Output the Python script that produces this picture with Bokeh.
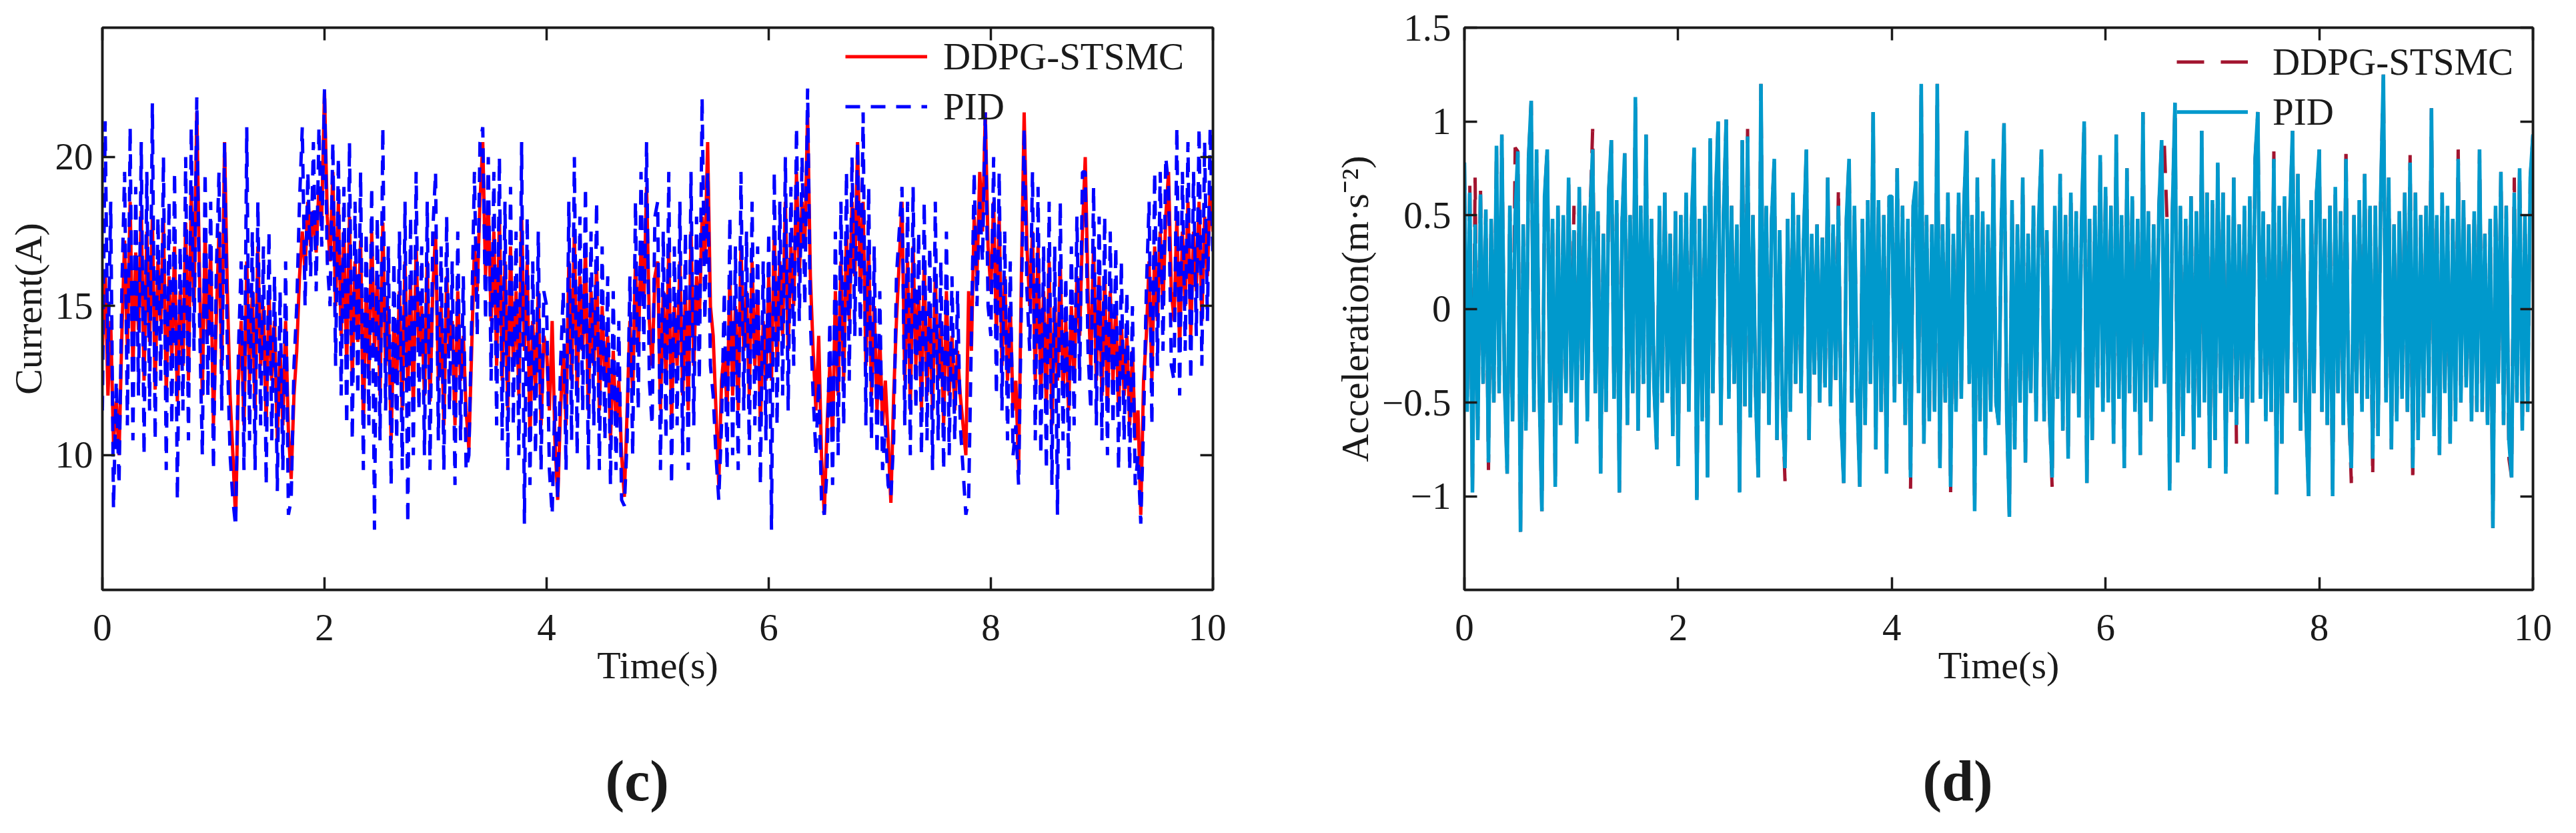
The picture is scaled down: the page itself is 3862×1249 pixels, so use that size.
import numpy as np
from bokeh.plotting import figure
from bokeh.layouts import row
from bokeh.models import Range1d, LinearAxis, FixedTicker, Legend, LegendItem, Title
from bokeh.embed import file_html
from bokeh.resources import INLINE

FONT = "Liberation Serif"
INK = "#1a1a1a"

# panel (c): motor current, one row per second, sampled every 0.025 s
time_c = np.linspace(0, 10, 401)
current_ddpg = [
    13.5, 16.2, 12.0, 14.5, 10.4, 11.8, 10.0, 14.0, 17.2, 13.5, 18.5, 12.8, 16.8, 14.2, 18.2, 12.5, 17.5, 13.8, 18.0, 12.2, 16.5, 14.5, 17.8, 12.0, 16.0, 13.2, 17.0, 11.8, 15.5, 13.0, 17.8, 12.5, 18.8, 15.0, 21.5, 16.0, 12.0, 17.5, 14.0, 16.8,
    11.0, 14.5, 17.5, 13.0, 20.5, 15.5, 12.0, 10.0, 7.8, 12.5, 14.5, 11.0, 16.5, 12.5, 15.5, 11.5, 17.0, 13.0, 15.0, 11.0, 15.5, 12.5, 14.5, 10.5, 13.5, 11.0, 14.5, 10.8, 9.2, 12.0, 13.5, 16.0, 17.5, 16.2, 18.5, 17.0, 18.2, 16.8, 19.0, 18.0,
    22.2, 18.0, 16.5, 19.5, 15.0, 18.5, 14.0, 17.5, 13.0, 18.0, 12.5, 16.5, 13.8, 17.2, 11.0, 15.5, 12.8, 17.5, 13.5, 16.0, 12.0, 17.8, 13.0, 15.0, 10.5, 14.5, 12.5, 15.5, 11.5, 16.5, 12.2, 15.8, 11.5, 17.0, 13.5, 15.0, 12.0, 16.5, 11.8, 15.5,
    17.5, 12.5, 15.0, 11.0, 16.0, 13.5, 14.5, 11.0, 15.5, 12.5, 14.0, 11.5, 10.2, 13.5, 17.0, 15.5, 18.5, 20.5, 16.0, 18.5, 14.5, 17.5, 13.0, 18.0, 12.5, 16.5, 11.5, 17.0, 13.0, 15.5, 12.0, 18.0, 13.5, 16.5, 10.5, 14.5, 12.0, 15.5, 11.0, 14.0,
    13.5, 11.5, 14.5, 10.5, 8.5, 11.5, 13.5, 11.0, 16.5, 12.5, 17.5, 12.0, 16.0, 13.5, 17.0, 11.5, 15.5, 13.0, 16.5, 11.5, 15.0, 12.5, 14.0, 10.5, 13.5, 11.0, 12.5, 10.0, 8.6, 11.5, 14.5, 12.0, 16.5, 13.5, 17.0, 15.0, 19.0, 14.5, 13.0, 16.0,
    16.5, 11.5, 15.5, 12.5, 17.0, 11.0, 15.0, 13.0, 16.5, 12.0, 15.5, 11.5, 17.5, 13.0, 16.0, 14.5, 18.0, 16.5, 20.5, 15.0, 14.0, 11.5, 9.0, 12.5, 13.5, 11.5, 16.0, 12.0, 15.0, 11.5, 17.0, 13.5, 15.5, 12.0, 16.5, 13.0, 15.5, 11.0, 14.5, 12.5,
    16.0, 12.5, 17.5, 13.0, 16.5, 14.0, 18.5, 13.5, 17.0, 15.0, 19.5, 16.0, 18.5, 17.0, 21.5, 16.0, 13.5, 11.5, 14.0, 10.0, 8.0, 11.0, 13.0, 10.5, 15.5, 12.0, 16.5, 12.5, 17.5, 14.5, 18.5, 16.0, 20.5, 15.5, 18.5, 13.0, 17.0, 12.0, 15.0, 11.5,
    14.0, 11.0, 12.5, 10.5, 8.4, 12.0, 14.5, 16.5, 18.5, 12.5, 16.5, 11.5, 17.0, 13.0, 15.5, 11.5, 16.5, 12.0, 15.0, 11.5, 16.0, 12.5, 14.5, 11.0, 15.5, 12.0, 14.0, 11.5, 13.5, 12.0, 11.0, 10.0, 15.5, 13.5, 18.0, 16.0, 19.5, 17.5, 21.5, 17.0,
    15.5, 18.5, 14.0, 18.0, 13.0, 16.0, 12.5, 15.0, 11.5, 12.5, 9.5, 16.0, 21.5, 17.0, 15.0, 17.5, 12.5, 17.0, 12.0, 15.5, 11.5, 16.5, 11.0, 15.0, 12.5, 16.5, 12.0, 14.5, 11.5, 15.0, 12.5, 16.0, 14.0, 17.5, 20.0, 15.5, 13.0, 17.0, 12.5, 16.0,
    12.0, 16.0, 11.5, 15.5, 12.5, 15.0, 11.5, 14.5, 12.0, 14.0, 11.0, 13.5, 10.5, 11.5, 8.0, 12.5, 14.0, 16.5, 12.5, 17.0, 14.5, 17.5, 15.0, 18.0, 19.5, 15.5, 14.5, 18.0, 13.5, 17.5, 15.0, 18.5, 14.0, 17.5, 15.5, 18.5, 14.5, 18.0, 16.0, 19.0,
    17.5,
]
current_pid = [
    11.5, 21.2, 13.0, 18.5, 8.2, 12.5, 9.0, 15.5, 19.5, 11.0, 21.0, 10.5, 19.0, 12.0, 20.5, 10.0, 19.5, 11.5, 21.8, 10.5, 18.0, 12.5, 20.0, 9.5, 18.5, 11.0, 19.5, 8.5, 17.0, 11.5, 20.0, 10.5, 21.0, 13.5, 22.0, 14.5, 10.0, 19.5, 12.0, 18.5,
    9.5, 16.0, 19.5, 11.5, 20.5, 13.5, 10.0, 8.5, 7.6, 13.5, 16.5, 9.5, 21.0, 10.5, 17.5, 9.5, 18.5, 11.0, 17.0, 9.0, 17.5, 10.5, 16.0, 8.8, 15.5, 9.5, 16.5, 8.0, 8.5, 13.0, 15.0, 18.5, 21.0, 15.0, 19.5, 16.0, 20.5, 15.5, 21.0, 17.0,
    22.3, 16.5, 15.0, 20.5, 13.0, 20.0, 12.0, 19.0, 11.0, 20.5, 10.5, 18.5, 12.0, 19.5, 9.5, 17.5, 11.0, 19.0, 7.5, 18.0, 10.5, 21.0, 11.5, 17.0, 9.0, 16.5, 10.5, 17.5, 9.5, 18.5, 7.7, 18.0, 10.0, 19.5, 11.5, 17.0, 10.0, 18.5, 9.5, 17.5,
    19.5, 10.5, 17.0, 9.5, 18.0, 11.5, 16.5, 9.0, 17.5, 10.5, 16.0, 9.5, 10.0, 14.5, 19.5, 14.0, 20.5, 21.0, 14.5, 20.0, 12.5, 19.5, 11.0, 20.0, 10.5, 18.5, 9.5, 19.0, 11.0, 17.5, 10.0, 20.5, 7.7, 18.0, 9.0, 16.5, 10.0, 17.5, 9.5, 15.5,
    15.0, 9.5, 8.0, 12.0, 8.5, 13.0, 15.5, 9.5, 18.5, 10.5, 20.0, 10.0, 18.0, 11.5, 19.0, 9.5, 17.5, 11.0, 18.5, 9.5, 17.0, 10.5, 16.0, 9.0, 15.5, 9.5, 14.5, 8.5, 8.3, 10.5, 16.0, 10.0, 18.5, 11.5, 19.5, 13.5, 20.5, 12.5, 11.0, 18.0,
    18.5, 9.5, 17.5, 10.5, 19.5, 9.0, 17.0, 11.0, 18.5, 10.0, 17.5, 9.5, 19.5, 11.0, 18.0, 12.5, 22.0, 14.5, 19.5, 13.0, 12.0, 10.0, 8.5, 11.0, 15.5, 9.5, 18.0, 10.0, 17.0, 9.5, 19.5, 11.5, 17.5, 10.0, 18.5, 11.0, 17.0, 9.0, 16.5, 10.5,
    17.5, 7.5, 19.5, 11.0, 18.5, 12.0, 20.0, 11.5, 19.0, 13.0, 21.0, 14.5, 20.0, 15.0, 22.3, 14.5, 12.0, 10.0, 12.5, 8.5, 8.0, 9.5, 14.5, 9.0, 17.5, 10.0, 18.5, 11.0, 19.5, 12.5, 20.0, 14.0, 20.5, 14.0, 21.5, 11.0, 19.0, 10.5, 17.0, 10.0,
    15.5, 9.5, 11.0, 9.0, 8.6, 10.5, 16.0, 17.5, 19.0, 11.0, 18.5, 10.0, 19.0, 11.5, 17.5, 10.0, 18.5, 10.5, 17.0, 9.5, 18.5, 10.5, 16.5, 9.5, 17.5, 10.0, 16.0, 10.5, 15.5, 11.0, 9.5, 8.0, 8.5, 14.0, 19.5, 15.0, 18.5, 16.5, 21.5, 15.0,
    14.0, 20.0, 12.0, 19.5, 11.5, 17.5, 10.5, 16.5, 10.0, 11.0, 9.0, 15.0, 21.0, 15.5, 13.5, 19.5, 10.5, 19.0, 10.0, 17.0, 9.5, 18.5, 9.0, 17.0, 8.0, 18.5, 10.5, 16.0, 9.5, 17.0, 11.0, 18.0, 12.5, 19.5, 19.5, 13.5, 11.5, 19.0, 11.0, 18.0,
    10.5, 18.0, 10.0, 17.5, 11.0, 17.0, 9.5, 16.5, 10.5, 15.5, 9.5, 15.0, 9.0, 10.0, 7.7, 11.0, 15.5, 18.5, 11.0, 19.5, 13.0, 19.5, 13.5, 20.0, 19.0, 13.0, 12.5, 21.0, 12.0, 19.5, 13.5, 20.5, 12.5, 19.5, 14.0, 21.0, 13.0, 20.5, 14.5, 21.0,
    16.5,
]

# panel (d): vertical acceleration, one row per second, sampled every 0.025 s
time_d = np.linspace(0, 10, 401)
accel_ddpg = [
    0.78, -0.55, 0.68, -0.98, 0.70, -0.70, 0.66, -0.40, 0.53, -0.86, 0.48, -0.50, 0.87, -0.45, 0.93, -0.38, -0.88, 0.55, -0.60, 0.86, 0.84, -1.19, 0.45, -0.65, 0.80, 1.11, -0.55, 0.85, -0.42, -1.08, 0.60, 0.85, -0.50, 0.48, -0.95, 0.55, -0.62, 0.50, -0.45, 0.70,
    -0.50, 0.55, -0.72, 0.65, -0.38, 0.55, -0.60, 0.48, 0.96, -0.45, 0.52, -0.88, 0.40, -0.55, 0.62, 0.90, -0.48, 0.58, -0.98, 0.45, 0.83, -0.62, 0.50, -0.45, 1.13, -0.65, 0.55, -0.40, 0.93, -0.58, 0.48, -0.42, -0.75, 0.55, -0.50, 0.62, -0.45, 0.40, -0.68, 0.52,
    -0.84, 0.50, -0.40, 0.62, -0.55, 0.45, 0.86, -1.05, 0.48, -0.60, 0.55, -0.90, 0.91, -0.45, 0.58, 1.00, -0.62, 0.50, 1.01, -0.48, 0.55, -0.40, 0.45, -0.98, 0.90, -0.52, 0.96, -0.58, 0.50, -0.45, -0.90, 1.20, -0.45, 0.55, -0.62, 0.48, 0.80, -0.70, 0.42, -0.50,
    -0.92, 0.48, -0.55, 0.62, -0.40, 0.50, -0.45, 0.38, 0.85, -0.70, 0.40, -0.35, 0.45, -0.50, 0.38, -0.42, 0.70, -0.52, 0.45, -0.38, 0.65, -0.60, -0.93, 0.48, 0.80, -0.50, 0.55, -0.45, -0.95, 0.48, -0.62, 0.58, -0.40, 1.05, -0.75, 0.58, -0.55, 0.50, -0.88, 0.60,
    0.60, -0.50, 0.75, -0.40, 0.55, -0.62, 0.48, -0.96, 0.55, 0.68, -0.45, 1.20, -0.72, 0.50, -0.60, 0.45, -0.55, 1.20, -0.85, 0.45, -0.50, 0.62, -0.98, 0.40, -0.55, 0.62, -0.48, 0.55, 0.95, -0.40, 0.50, -1.08, 0.70, -0.60, 0.52, -0.78, 0.45, -0.55, 0.80, -0.50,
    -0.62, 0.45, 0.99, -0.55, -1.11, 0.58, -0.75, 0.45, -0.50, 0.70, -0.82, 0.40, -0.45, 0.55, -0.60, 0.48, 0.85, -0.60, 0.42, -0.55, -0.95, 0.55, -0.48, 0.72, -0.65, 0.50, -0.80, 0.62, -0.45, 0.52, -0.58, 0.45, 1.00, -0.93, 0.48, -0.70, 0.55, -0.42, 0.82, -0.55,
    0.65, -0.50, 0.55, -0.72, 0.93, -0.48, 0.50, -0.85, 0.75, -0.45, 0.60, -0.55, 0.48, -0.78, 1.05, -0.50, 0.52, -0.60, 0.45, -0.42, 0.55, 0.90, 0.88, 0.48, -0.97, 0.50, 1.10, -0.82, 0.55, -0.68, 0.48, -0.45, 0.60, -0.75, 0.52, -0.58, 0.95, -0.50, 0.62, -0.85,
    0.58, -0.70, 0.78, -0.45, 0.62, -0.88, 0.50, -0.55, 0.70, -0.72, 0.45, -0.48, 0.55, -0.72, 0.60, -0.50, 0.80, 1.05, -0.48, 0.52, -0.60, 0.45, -0.55, 0.84, -0.99, 0.55, -0.72, 0.60, -0.45, 0.50, 0.95, -0.50, 0.72, -0.65, 0.48, -0.55, -1.00, 0.58, -0.45, 0.62,
    0.85, -0.55, 0.48, -0.62, 0.55, -1.00, 0.65, -0.45, 0.52, -0.62, 0.87, -0.50, -0.93, 0.50, -0.45, 0.58, -0.55, 0.72, -0.48, 0.55, -0.90, 0.55, -0.68, 0.60, 1.25, -0.50, 0.70, -0.75, 0.45, -0.60, 0.52, -0.48, 0.62, -0.55, 0.82, -0.93, 0.62, -0.70, 0.50, -0.58,
    0.55, -0.45, 1.07, -0.68, 0.50, -0.78, 0.62, -0.45, 0.55, -0.72, 0.48, -0.60, 0.85, -0.50, 0.58, -0.42, 0.45, -0.60, 0.52, -0.55, 0.85, -0.55, 0.40, -0.62, 0.48, -1.17, 0.55, -0.40, 0.73, -0.62, 0.55, -0.80, -0.90, 0.70, -0.50, 0.75, -0.65, 0.50, -0.55, 0.70,
    0.93,
]
accel_pid = [
    0.78, -0.55, 0.62, -0.98, 0.45, -0.70, 0.61, -0.40, 0.53, -0.82, 0.48, -0.50, 0.87, -0.45, 0.93, -0.38, -0.88, 0.55, -0.60, 0.50, 0.84, -1.19, 0.45, -0.65, 0.80, 1.11, -0.55, 0.85, -0.42, -1.08, 0.60, 0.85, -0.50, 0.48, -0.95, 0.55, -0.62, 0.50, -0.45, 0.70,
    -0.50, 0.42, -0.72, 0.65, -0.38, 0.55, -0.60, 0.48, 0.85, -0.45, 0.52, -0.88, 0.40, -0.55, 0.62, 0.90, -0.48, 0.58, -0.98, 0.45, 0.83, -0.62, 0.50, -0.45, 1.13, -0.65, 0.55, -0.40, 0.93, -0.58, 0.48, -0.42, -0.75, 0.55, -0.50, 0.62, -0.45, 0.40, -0.68, 0.52,
    -0.84, 0.50, -0.40, 0.62, -0.55, 0.45, 0.86, -1.02, 0.48, -0.60, 0.55, -0.90, 0.91, -0.45, 0.58, 1.00, -0.62, 0.50, 1.01, -0.48, 0.55, -0.40, 0.45, -0.98, 0.90, -0.52, 0.92, -0.58, 0.50, -0.45, -0.90, 1.20, -0.45, 0.55, -0.62, 0.48, 0.80, -0.70, 0.42, -0.50,
    -0.85, 0.48, -0.55, 0.62, -0.40, 0.50, -0.45, 0.38, 0.85, -0.70, 0.40, -0.35, 0.45, -0.50, 0.38, -0.42, 0.70, -0.52, 0.45, -0.38, 0.55, -0.60, -0.93, 0.48, 0.80, -0.50, 0.55, -0.45, -0.95, 0.48, -0.62, 0.58, -0.40, 1.05, -0.75, 0.58, -0.55, 0.50, -0.88, 0.60,
    0.60, -0.50, 0.75, -0.40, 0.55, -0.62, 0.48, -0.90, 0.55, 0.68, -0.45, 1.20, -0.72, 0.50, -0.60, 0.45, -0.55, 1.20, -0.85, 0.45, -0.50, 0.62, -0.95, 0.40, -0.55, 0.62, -0.48, 0.55, 0.95, -0.40, 0.50, -1.08, 0.70, -0.60, 0.52, -0.78, 0.45, -0.55, 0.80, -0.50,
    -0.62, 0.45, 0.99, -0.55, -1.11, 0.58, -0.75, 0.45, -0.50, 0.70, -0.82, 0.40, -0.45, 0.55, -0.60, 0.48, 0.85, -0.60, 0.42, -0.55, -0.90, 0.55, -0.48, 0.72, -0.65, 0.50, -0.80, 0.62, -0.45, 0.52, -0.58, 0.45, 1.00, -0.93, 0.48, -0.70, 0.55, -0.42, 0.82, -0.55,
    0.65, -0.50, 0.55, -0.72, 0.93, -0.48, 0.50, -0.85, 0.75, -0.45, 0.60, -0.55, 0.48, -0.78, 1.05, -0.50, 0.52, -0.60, 0.45, -0.42, 0.55, 0.90, -0.40, 0.48, -0.97, 0.50, 1.10, -0.82, 0.55, -0.68, 0.48, -0.45, 0.60, -0.75, 0.52, -0.58, 0.95, -0.50, 0.62, -0.85,
    0.58, -0.70, 0.78, -0.45, 0.62, -0.88, 0.50, -0.55, 0.70, -0.62, 0.45, -0.48, 0.55, -0.72, 0.60, -0.50, 0.80, 1.05, -0.48, 0.52, -0.60, 0.45, -0.55, 0.80, -0.99, 0.55, -0.72, 0.60, -0.45, 0.50, 0.95, -0.50, 0.72, -0.65, 0.48, -0.55, -1.00, 0.58, -0.45, 0.62,
    0.85, -0.55, 0.48, -0.62, 0.55, -1.00, 0.65, -0.45, 0.52, -0.62, 0.80, -0.50, -0.85, 0.50, -0.45, 0.58, -0.55, 0.72, -0.48, 0.55, -0.80, 0.55, -0.68, 0.60, 1.25, -0.50, 0.70, -0.75, 0.45, -0.60, 0.52, -0.48, 0.62, -0.55, 0.78, -0.85, 0.62, -0.70, 0.50, -0.58,
    0.55, -0.45, 1.07, -0.68, 0.50, -0.78, 0.62, -0.45, 0.55, -0.72, 0.48, -0.60, 0.80, -0.50, 0.58, -0.42, 0.45, -0.60, 0.52, -0.55, 0.85, -0.55, 0.40, -0.62, 0.48, -1.17, 0.55, -0.40, 0.73, -0.62, 0.55, -0.70, -0.90, 0.62, -0.50, 0.75, -0.65, 0.50, -0.55, 0.70,
    0.93,
]

x_ticks = [0, 2, 4, 6, 8, 10]
c_ticks = [10, 15, 20]
d_ticks = [-1, -0.5, 0, 0.5, 1, 1.5]
d_tick_labels = {-1: "\u22121", -0.5: "\u22120.5", 0: "0", 0.5: "0.5", 1: "1", 1.5: "1.5"}


def style_ticks(ax):
    ax.axis_line_color = INK
    ax.axis_line_width = 3.5
    ax.major_tick_in = 19
    ax.major_tick_out = 0
    ax.major_tick_line_color = INK
    ax.major_tick_line_width = 3.5
    ax.minor_tick_line_color = None


def make_panel(frame_w, y_lo, y_hi, y_ticks, y_label, border_left, border_right, y_standoff):
    p = figure(frame_width=frame_w, frame_height=843,
               x_range=Range1d(0, 10), y_range=Range1d(y_lo, y_hi),
               min_border_left=border_left, min_border_right=border_right,
               min_border_top=41, min_border_bottom=341,
               x_axis_label="Time(s)", y_axis_label=y_label,
               output_backend="svg", toolbar_location=None)
    p.grid.visible = False
    p.outline_line_color = INK
    p.outline_line_width = 3.5
    p.xaxis.ticker = FixedTicker(ticks=x_ticks)
    p.yaxis.ticker = FixedTicker(ticks=y_ticks)
    for ax in (p.xaxis[0], p.yaxis[0]):
        style_ticks(ax)
        ax.major_label_text_font = FONT
        ax.major_label_text_font_size = "57px"
        ax.major_label_text_color = INK
        ax.axis_label_text_font = FONT
        ax.axis_label_text_font_size = "58px"
        ax.axis_label_text_font_style = "normal"
        ax.axis_label_text_color = INK
    p.xaxis.major_label_standoff = 37
    p.xaxis.axis_label_standoff = 2
    p.yaxis.major_label_standoff = y_standoff
    p.yaxis.axis_label_standoff = 5
    # mirrored inward ticks on the top and right edges (boxed axes), no labels
    top = LinearAxis(ticker=FixedTicker(ticks=x_ticks))
    right = LinearAxis(ticker=FixedTicker(ticks=y_ticks))
    for ax in (top, right):
        style_ticks(ax)
        ax.major_label_text_color = None
        ax.major_label_standoff = 0
    p.add_layout(top, "above")
    p.add_layout(right, "right")
    return p


def add_legend(p, items, loc, glyph_w, standoff):
    leg = Legend(items=items, location=loc)
    leg.label_text_font = FONT
    leg.label_text_font_size = "57px"
    leg.label_text_color = INK
    leg.glyph_width = glyph_w
    leg.glyph_height = 57
    leg.label_height = 57
    leg.label_standoff = standoff
    leg.spacing = 10
    leg.padding = 0
    leg.margin = 0
    leg.border_line_color = None
    leg.background_fill_alpha = 0
    p.add_layout(leg)


def add_caption(p, text, shift):
    p.add_layout(Title(text=text, align="left", offset=shift, text_font=FONT,
                       text_font_size="86px", text_font_style="bold", text_color=INK,
                       standoff=176), "below")


# (c) current
p1 = make_panel(1665, 5.48, 24.34, c_ticks, "Current(A)", 153, 20, 14)
r_c1 = p1.line(time_c, current_ddpg, line_color="#ff0000", line_width=5)
r_c2 = p1.line(time_c, current_pid, line_color="#0000ff", line_width=5, line_dash="22 16")
add_legend(p1, [LegendItem(label="DDPG-STSMC", renderers=[r_c1]),
                LegendItem(label="PID", renderers=[r_c2])], (1114, 692), 123, 24)
add_caption(p1, "(c)", 754)

# (d) acceleration
p2 = make_panel(1602, -1.5, 1.5, d_ticks, "Acceleration(m\u00b7s\u207b\u00b2)", 357, 40, 20)
p2.yaxis.major_label_overrides = d_tick_labels
r_d1 = p2.line(time_d, accel_ddpg, line_color="#a2142f", line_width=5, line_dash="41 25")
r_d2 = p2.line(time_d, accel_pid, line_color="#0099cc", line_width=5.5)
add_legend(p2, [LegendItem(label="DDPG-STSMC", renderers=[r_d1]),
                LegendItem(label="PID", renderers=[r_d2])], (1068, 684), 107, 37)
add_caption(p2, "(d)", 687)

page = row(p1, p2)
open("out.html", "w").write(file_html(page, INLINE))
